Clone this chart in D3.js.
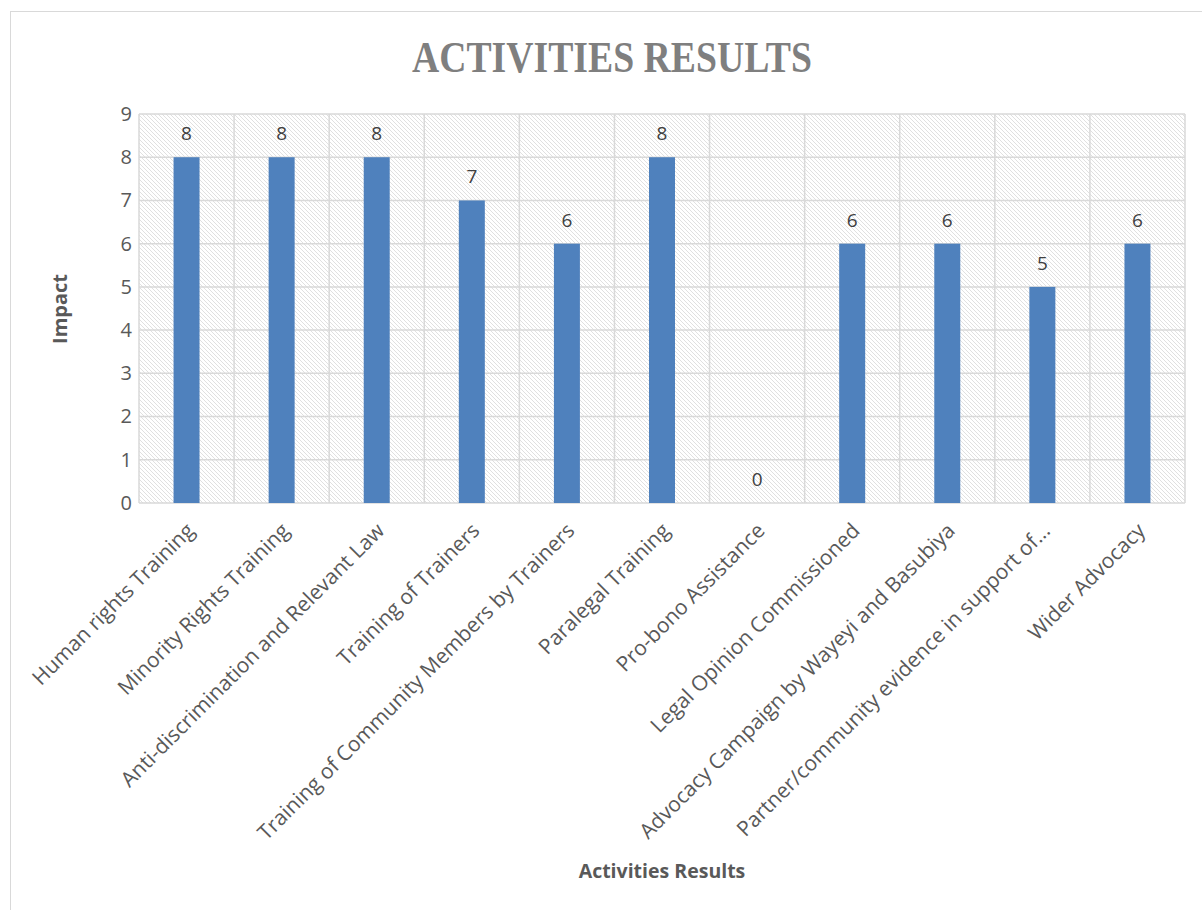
<!DOCTYPE html>
<html>
<head>
<meta charset="utf-8">
<script src="https://cdn.jsdelivr.net/npm/d3@7"></script>
<style>
  body { margin: 0; background: #fff; }
  svg { display: block; }
</style>
</head>
<body>
<div id="chart"></div>
<script>
const categories = [
  "Human rights Training",
  "Minority Rights Training",
  "Anti-discrimination and Relevant Law",
  "Training of Trainers",
  "Training of Community Members by Trainers",
  "Paralegal Training",
  "Pro-bono Assistance",
  "Legal Opinion Commissioned",
  "Advocacy Campaign by Wayeyi and Basubiya",
  "Partner/community evidence in support of...",
  "Wider Advocacy"
];
const values = [8, 8, 8, 7, 6, 8, 0, 6, 6, 5, 6];
const yTicks = [0, 1, 2, 3, 4, 5, 6, 7, 8, 9];

const W = 1202;
const H = 910;
const PL = 139, PR = 1185, PT = 114, PB = 503;

const svg = d3.select("#chart").append("svg")
  .attr("width", W)
  .attr("height", H);

// hatch pattern for the plot area
const defs = svg.append("defs");
const pat = defs.append("pattern")
  .attr("id", "hatch")
  .attr("patternUnits", "userSpaceOnUse")
  .attr("width", 4)
  .attr("height", 4);
pat.append("rect").attr("width", 4).attr("height", 4).attr("fill", "#fff");
pat.append("path")
  .attr("d", "M-1,-1 L5,5 M-1,3 L1,5 M3,-1 L5,1")
  .attr("stroke", "#e0e0e0")
  .attr("stroke-width", 1);

// chart frame
svg.append("rect")
  .attr("x", 10.5).attr("y", 11.5)
  .attr("width", 1210).attr("height", 910)
  .attr("fill", "none")
  .attr("stroke", "#d9d9d9")
  .attr("stroke-width", 1);

const x = d3.scaleBand()
  .domain(categories)
  .range([PL, PR])
  .paddingInner(0)
  .paddingOuter(0);

const y = d3.scaleLinear()
  .domain([0, 9])
  .range([PB, PT]);

svg.append("rect")
  .attr("x", PL).attr("y", PT)
  .attr("width", PR - PL).attr("height", PB - PT)
  .attr("fill", "url(#hatch)");

// horizontal gridlines
svg.append("g")
  .selectAll("line")
  .data(yTicks)
  .enter()
  .append("line")
  .attr("x1", PL).attr("x2", PR)
  .attr("y1", d => y(d)).attr("y2", d => y(d))
  .attr("stroke", "#d9d9d9")
  .attr("stroke-width", 1.5);

// vertical gridlines at category boundaries
const bounds = categories.map(c => x(c)).concat([PR]);
svg.append("g")
  .selectAll("line")
  .data(bounds)
  .enter()
  .append("line")
  .attr("x1", d => d).attr("x2", d => d)
  .attr("y1", PT).attr("y2", PB)
  .attr("stroke", "#d9d9d9")
  .attr("stroke-width", 1.5);

// bars
const BAR_W = 26;
svg.append("g")
  .selectAll("rect")
  .data(values)
  .enter()
  .append("rect")
  .attr("x", (d, i) => x(categories[i]) + x.bandwidth() / 2 - BAR_W / 2)
  .attr("y", d => y(d))
  .attr("width", BAR_W)
  .attr("height", d => PB - y(d))
  .attr("fill", "#4f81bd");

// value labels
svg.append("g")
  .selectAll("text")
  .data(values)
  .enter()
  .append("text")
  .text(d => d)
  .attr("x", (d, i) => x(categories[i]) + x.bandwidth() / 2)
  .attr("y", d => y(d) - 17)
  .attr("text-anchor", "middle")
  .attr("font-family", "Open Sans, sans-serif")
  .attr("font-size", 19)
  .attr("fill", "#404040");

// y axis
const yAxis = d3.axisLeft(y).tickValues(yTicks).tickSize(0).tickPadding(7);
const gy = svg.append("g")
  .attr("transform", `translate(${PL},0)`)
  .call(yAxis);
gy.select(".domain").remove();
gy.selectAll("text")
  .attr("font-family", "Open Sans, sans-serif")
  .attr("font-size", 20)
  .attr("fill", "#595959");

// x axis labels
const xAxis = d3.axisBottom(x).tickSize(0).tickPadding(0);
const gx = svg.append("g")
  .attr("transform", `translate(0,${PB})`)
  .call(xAxis);
gx.select(".domain").remove();
gx.selectAll("text")
  .attr("font-family", "Open Sans, sans-serif")
  .attr("font-size", 21)
  .attr("fill", "#595959")
  .attr("text-anchor", "end")
  .attr("dy", "0")
  .attr("transform", "translate(9,29) rotate(-45)");

// titles
svg.append("text")
  .text("ACTIVITIES RESULTS")
  .attr("x", 612).attr("y", 72)
  .attr("text-anchor", "middle")
  .attr("textLength", 400)
  .attr("lengthAdjust", "spacingAndGlyphs")
  .attr("font-family", "Liberation Serif, serif")
  .attr("font-weight", "bold")
  .attr("font-size", 45)
  .attr("fill", "#7f7f7f");

svg.append("text")
  .text("Impact")
  .attr("transform", "translate(67,309) rotate(-90)")
  .attr("text-anchor", "middle")
  .attr("font-family", "Open Sans, sans-serif")
  .attr("font-weight", "bold")
  .attr("font-size", 20)
  .attr("fill", "#595959");

svg.append("text")
  .text("Activities Results")
  .attr("x", 662).attr("y", 878)
  .attr("text-anchor", "middle")
  .attr("font-family", "Open Sans, sans-serif")
  .attr("font-weight", "bold")
  .attr("font-size", 19.5)
  .attr("fill", "#595959");
</script>
</body>
</html>
